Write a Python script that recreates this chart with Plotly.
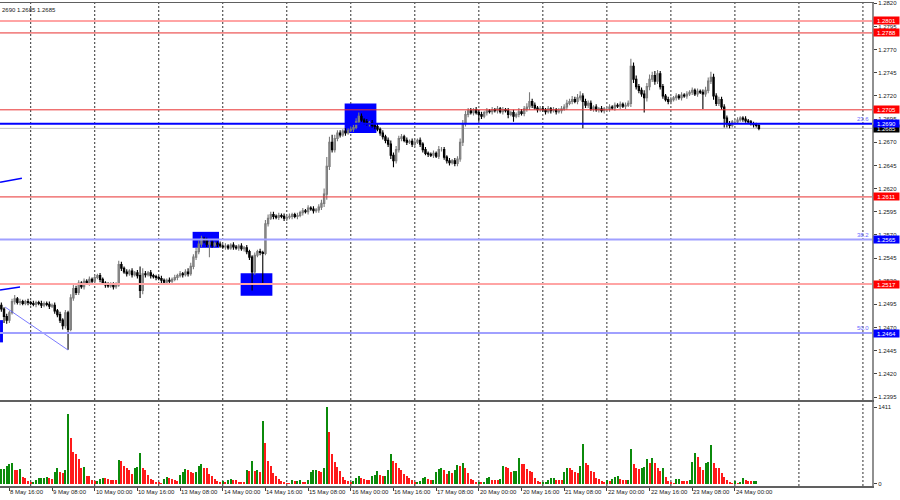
import plotly.graph_objects as go
import pandas as pd

# ---------------- data ----------------
trading_days = ["2024-05-08", "2024-05-09", "2024-05-10", "2024-05-13", "2024-05-14",
                "2024-05-15", "2024-05-16", "2024-05-17", "2024-05-20", "2024-05-21",
                "2024-05-22", "2024-05-23", "2024-05-24"]
future_days = ["2024-05-27", "2024-05-28"]
first_hour = 13          # first H1 bar on 8 May
last_hour = 9            # last H1 bar on 24 May
base_price = 1.2400
pip = 0.0001
first_open_pips = 94

# hourly closes, pips above 1.2400 (one row per day)
close_pips = [
    90, 82, 78, 86, 98, 101, 97, 98, 96, 98, 97,
    96, 95, 97, 96, 94, 96, 95, 93, 94, 88, 84, 78, 72, 86, 68, 102, 112, 108, 118, 114, 120, 118, 122, 120,
    124, 126, 122, 118, 116, 115, 117, 114, 116, 138, 134, 130, 128, 131, 127, 129, 126, 110, 128, 127, 129, 126, 125, 124,
    123, 121, 119, 121, 120, 122, 124, 126, 128, 127, 130, 128, 136, 146, 152, 160, 166, 164, 160, 162, 159, 161, 160, 158,
    157, 158, 156, 159, 157, 156, 158, 155, 156, 152, 146, 130, 148, 152, 151, 150, 182, 188, 192, 190, 189, 191, 190, 188,
    189, 190, 192, 190, 191, 194, 196, 195, 199, 198, 196, 197, 200, 204, 214, 244, 270, 262, 274, 280, 278, 282, 280, 283,
    284, 286, 292, 298, 294, 292, 290, 291, 288, 287, 284, 280, 276, 272, 268, 256, 250, 262, 274, 276, 272, 270, 271, 268,
    270, 272, 268, 262, 258, 257, 256, 258, 255, 262, 262, 254, 250, 248, 250, 247, 252, 270, 290, 300, 304, 302, 305, 302,
    300, 298, 302, 304, 303, 305, 304, 306, 303, 305, 304, 300, 302, 298, 300, 303, 301, 306, 308, 314, 310, 307, 305, 306,
    305, 303, 306, 304, 305, 303, 304, 306, 308, 312, 314, 316, 314, 318, 320, 314, 310, 312, 306, 308, 305, 306, 304, 306,
    306, 308, 307, 310, 309, 311, 309, 310, 312, 352, 338, 330, 326, 322, 318, 330, 338, 342, 336, 344, 330, 320, 316, 314,
    316, 318, 320, 318, 321, 320, 322, 324, 326, 322, 325, 324, 322, 326, 336, 340, 320, 312, 316, 308, 296, 290, 288, 292,
    292, 294, 296, 295, 293, 292, 290, 289, 288, 285,
]

# upper / lower shadow lengths in pips
wick_up = [
    3, 2, 3, 2, 3, 4, 2, 3, 2, 2, 3,
    2, 3, 2, 2, 3, 2, 2, 3, 2, 3, 2, 3, 2, 3, 2, 4, 4, 3, 3, 2, 3, 2, 3, 2,
    3, 2, 3, 2, 2, 3, 2, 2, 3, 4, 3, 2, 3, 2, 3, 2, 3, 10, 6, 3, 2, 3, 2, 2,
    2, 3, 2, 2, 3, 2, 3, 2, 3, 2, 3, 4, 4, 3, 4, 4, 3, 2, 3, 2, 3, 2, 2, 3,
    2, 3, 2, 2, 3, 2, 2, 3, 2, 3, 2, 2, 3, 2, 3, 2, 4, 4, 3, 3, 2, 3, 2, 3,
    2, 3, 2, 2, 3, 2, 3, 2, 3, 2, 3, 2, 3, 4, 6, 10, 6, 8, 4, 3, 3, 2, 3, 2,
    3, 3, 4, 4, 3, 2, 3, 2, 3, 2, 3, 2, 3, 2, 3, 4, 3, 4, 3, 3, 2, 3, 2, 3,
    3, 2, 3, 2, 3, 2, 2, 3, 2, 4, 3, 3, 2, 3, 2, 3, 3, 4, 4, 4, 3, 3, 2, 3,
    3, 3, 2, 3, 2, 3, 2, 3, 2, 3, 2, 3, 2, 3, 2, 4, 3, 3, 4, 10, 3, 3, 2, 3,
    3, 2, 3, 2, 3, 2, 3, 3, 3, 4, 3, 4, 3, 4, 5, 3, 3, 3, 3, 2, 3, 2, 3, 2,
    2, 3, 2, 3, 2, 3, 2, 3, 3, 8, 4, 4, 3, 3, 4, 4, 5, 4, 5, 4, 3, 3, 2, 3,
    3, 2, 3, 2, 3, 2, 3, 2, 3, 2, 3, 2, 3, 4, 4, 6, 4, 3, 3, 3, 3, 3, 3, 2,
    3, 3, 2, 2, 3, 2, 2, 2, 2, 2,
]
wick_dn = [
    3, 7, 4, 3, 2, 3, 2, 3, 2, 2, 3,
    2, 2, 3, 2, 3, 2, 2, 3, 2, 3, 3, 3, 4, 3, 22, 2, 3, 3, 3, 2, 3, 2, 3, 2,
    3, 2, 3, 2, 3, 2, 2, 3, 2, 2, 3, 2, 3, 2, 3, 2, 3, 8, 4, 3, 2, 3, 2, 3,
    2, 3, 2, 3, 2, 3, 2, 3, 2, 3, 2, 3, 2, 3, 3, 3, 3, 3, 3, 14, 3, 2, 3, 2,
    2, 3, 2, 2, 3, 2, 3, 2, 3, 3, 3, 20, 3, 2, 3, 32, 2, 3, 2, 3, 2, 3, 2, 3,
    3, 2, 3, 2, 3, 2, 3, 2, 3, 2, 3, 2, 3, 3, 4, 6, 4, 3, 3, 3, 3, 2, 3, 2,
    2, 3, 2, 3, 2, 3, 2, 3, 2, 3, 2, 3, 3, 3, 3, 4, 7, 3, 3, 3, 2, 3, 2, 3,
    3, 2, 3, 3, 2, 3, 2, 3, 2, 3, 2, 3, 3, 3, 2, 3, 3, 3, 4, 3, 3, 2, 3, 2,
    8, 3, 2, 3, 2, 3, 2, 3, 2, 3, 2, 4, 2, 6, 2, 3, 2, 3, 3, 3, 3, 2, 3, 2,
    2, 3, 2, 3, 2, 3, 2, 3, 2, 3, 2, 3, 2, 3, 3, 29, 3, 3, 2, 3, 2, 3, 2, 3,
    2, 3, 2, 3, 2, 3, 2, 3, 2, 4, 4, 3, 3, 3, 16, 4, 4, 3, 4, 3, 3, 3, 2, 3,
    3, 2, 3, 2, 3, 2, 3, 2, 3, 2, 3, 2, 16, 3, 3, 3, 4, 3, 3, 3, 10, 4, 3, 2,
    3, 2, 2, 3, 2, 2, 2, 3, 2, 2,
]

# tick volumes
volume = [
    273, 280, 333, 376, 378, 261, 255, 270, 121, 103, 61,
    30, 36, 73, 109, 115, 118, 121, 103, 97, 224, 303, 224, 200, 261, 1291, 848, 588, 545, 455, 300, 310, 139, 139, 70,
    61, 64, 91, 115, 103, 91, 79, 76, 72, 442, 424, 333, 291, 261, 182, 303, 310, 576, 303, 261, 164, 91, 73, 42,
    30, 27, 91, 121, 103, 91, 73, 61, 164, 224, 273, 261, 224, 200, 224, 333, 364, 303, 297, 182, 152, 91, 61, 30,
    61, 30, 79, 91, 73, 70, 42, 40, 38, 261, 230, 424, 242, 250, 224, 1164, 758, 424, 333, 194, 152, 91, 61, 42,
    18, 15, 73, 61, 64, 67, 42, 38, 73, 224, 255, 258, 242, 212, 285, 1411, 957, 545, 406, 315, 242, 121, 79, 61,
    42, 61, 103, 152, 103, 100, 79, 76, 152, 164, 242, 164, 139, 152, 261, 545, 424, 394, 303, 255, 182, 139, 103, 73,
    30, 42, 61, 103, 121, 91, 73, 76, 212, 273, 303, 261, 182, 242, 200, 255, 345, 340, 394, 303, 200, 91, 79, 38,
    42, 40, 45, 103, 121, 79, 76, 73, 91, 333, 315, 285, 212, 230, 236, 485, 376, 370, 273, 242, 224, 103, 61, 28,
    30, 42, 73, 103, 106, 73, 70, 67, 224, 297, 285, 255, 224, 194, 333, 727, 394, 351, 242, 224, 103, 91, 55, 30,
    73, 48, 91, 121, 139, 91, 79, 76, 82, 648, 376, 285, 273, 285, 321, 467, 394, 479, 394, 303, 242, 303, 121, 48,
    30, 27, 91, 94, 61, 58, 55, 73, 412, 564, 503, 315, 261, 394, 400, 709, 394, 303, 297, 200, 121, 73, 30, 27,
    61, 18, 30, 115, 79, 61, 48, 50, 52, 6,
]

time_labels = ["8 May 16:00", "9 May 08:00", "10 May 00:00", "10 May 16:00", "13 May 08:00",
               "14 May 00:00", "14 May 16:00", "15 May 08:00", "16 May 00:00", "16 May 16:00",
               "17 May 08:00", "20 May 00:00", "20 May 16:00", "21 May 08:00", "22 May 00:00",
               "22 May 16:00", "23 May 08:00", "24 May 00:00"]

price_ticks = [1.2395, 1.2420, 1.2445, 1.2470, 1.2495, 1.2520, 1.2545, 1.2570, 1.2595,
               1.2620, 1.2645, 1.2670, 1.2695, 1.2720, 1.2745, 1.2770, 1.2795, 1.2820]
volume_ticks = [0, 1411]

level_prices = [1.2801, 1.2788, 1.2705, 1.2611, 1.2517, 1.2565, 1.2464, 1.2690]
level_kinds = ["pink", "red", "red", "red", "pink", "fibo", "fibo", "blue"]
fib_text = {1.2690: "23.6", 1.2565: "38.2", 1.2464: "50.0"}
bid_price = 1.2685
header_text = "2690 1.2685 1.2685"

# rectangles: (start bar, end bar, upper price, lower price)
boxes = [(-0.5, 0.6, 1.2478, 1.2454),
         (71.7, 81.6, 1.25733, 1.25561),
         (89.7, 101.6, 1.25285, 1.25043),
         (128.7, 140.6, 1.27118, 1.26801)]
# trend lines: (bar0, price0, bar1, price1, kind)
trend_lines = [(-0.5, 1.26269, 7.7, 1.26312, "thick"),
               (-0.5, 1.25104, 7.0, 1.25137, "thick"),
               (1.4, 1.24921, 25.0, 1.24457, "thin")]

# ---------------- build bars ----------------
times = []
for d in trading_days:
    for hr in range(24):
        if d == trading_days[0] and hr < first_hour:
            continue
        if d == trading_days[-1] and hr > last_hour:
            continue
        times.append(pd.Timestamp(d) + pd.Timedelta(hours=hr))
n = len(times)
assert n == len(close_pips) == len(wick_up) == len(wick_dn) == len(volume)

idx = list(range(n))
opens_p = [first_open_pips] + close_pips[:-1]
o = [base_price + v * pip for v in opens_p]
c = [base_price + v * pip for v in close_pips]
h = [base_price + (max(a, b) + u) * pip for a, b, u in zip(opens_p, close_pips, wick_up)]
l = [base_price + (min(a, b) - w) * pip for a, b, w in zip(opens_p, close_pips, wick_dn)]

vol_colors = ["#0b8a0b" if (i == 0 or v > volume[i - 1]) else "#ff1a1a" for i, v in enumerate(volume)]

day_starts = [i for i, t in enumerate(times) if t.hour == 0]
last_start = day_starts[-1]
grid_pos = day_starts + [last_start + 24 * (k + 1) for k in range(len(future_days))]

label_pos = []
for s in time_labels:
    t = pd.to_datetime(s + " 2024", format="%d %b %H:%M %Y")
    label_pos.append(times.index(t))

# ---------------- figure ----------------
FONT = "Liberation Sans, Arial, sans-serif"
fig = go.Figure()
fig.add_trace(go.Candlestick(
    x=idx, open=o, high=h, low=l, close=c,
    increasing=dict(line=dict(color="#7c7c7c", width=1.1), fillcolor="#a8a8a8"),
    decreasing=dict(line=dict(color="#000000", width=1.1), fillcolor="#000000"),
    whiskerwidth=0, xaxis="x", yaxis="y", showlegend=False, hoverinfo="skip"))
fig.add_trace(go.Bar(x=idx, y=volume, marker=dict(color=vol_colors, line=dict(width=0)),
                     width=0.75, xaxis="x2", yaxis="y2", showlegend=False, hoverinfo="skip"))

x_range = [-0.51, 326.4]
main_dom = [0.17805, 1.0]
vol_dom = [0.0, 0.1739]
frame = "#606060"

fig.update_layout(
    width=900, height=500,
    margin=dict(l=0, r=28, t=3, b=14),
    paper_bgcolor="white", plot_bgcolor="white",
    font=dict(family=FONT, size=6, color="#202020"),
    bargap=0,
    xaxis=dict(domain=[0, 1], range=x_range, anchor="y", showgrid=False, zeroline=False,
               showticklabels=False, ticks="", showline=True, mirror=True,
               linecolor=frame, linewidth=1.5, rangeslider=dict(visible=False), fixedrange=True),
    yaxis=dict(domain=main_dom, range=[1.23918, 1.28203], side="right", anchor="x",
               tickmode="array", tickvals=price_ticks, ticktext=[f"{v:.4f}" for v in price_ticks],
               ticks="outside", ticklen=3, tickcolor="#404040", showgrid=False, zeroline=False,
               showline=True, linecolor="#909090", linewidth=2, tickfont=dict(size=6, color="#202020")),
    xaxis2=dict(domain=[0, 1], range=x_range, anchor="y2", matches="x", showgrid=False, zeroline=False,
                tickmode="array", tickvals=label_pos, showticklabels=False, ticks="outside", ticklen=3,
                tickcolor="#404040", showline=True, mirror=True, linecolor=frame, linewidth=1.5),
    yaxis2=dict(domain=vol_dom, range=[-37, 1508], side="right", anchor="x2",
                tickmode="array", tickvals=volume_ticks, ticktext=[str(v) for v in volume_ticks],
                ticks="outside", ticklen=3, tickcolor="#404040", showgrid=False, zeroline=False,
                showline=True, linecolor="#909090", linewidth=2, tickfont=dict(size=6, color="#202020")),
)

shapes = []
for g in grid_pos:
    for yr in ("y domain", "y2 domain"):
        shapes.append(dict(type="line", xref="x", yref=yr, x0=g, x1=g, y0=0, y1=1,
                           line=dict(color="#303030", width=1, dash="2px,2px"), layer="below"))
for b0, b1, p_hi, p_lo in boxes:
    shapes.append(dict(type="rect", xref="x", yref="y", x0=b0, x1=b1, y0=p_lo, y1=p_hi,
                       fillcolor="#0000ff", line=dict(width=0), layer="below"))
for b0, p0, b1, p1, kind in trend_lines:
    shapes.append(dict(type="line", xref="x", yref="y", x0=b0, y0=p0, x1=b1, y1=p1,
                       line=dict(color="#0000ff" if kind == "thick" else "#5a5aff",
                                 width=1.5 if kind == "thick" else 0.8), layer="above"))
shapes.append(dict(type="line", xref="x domain", yref="y", x0=0, x1=1, y0=bid_price, y1=bid_price,
                   line=dict(color="#c0c0c0", width=1), layer="below"))
line_style = {"pink": ("#ffa4a4", 2), "red": ("#e83030", 1), "fibo": ("#a0a0ff", 2), "blue": ("#0000ff", 2)}
label_bg = {"pink": "#ff0000", "red": "#ff0000", "fibo": "#0000ff", "blue": "#0000ff"}
for p, k in zip(level_prices, level_kinds):
    col, w = line_style[k]
    shapes.append(dict(type="line", xref="x domain", yref="y", x0=0, x1=1, y0=p, y1=p,
                       line=dict(color=col, width=w), layer="above"))
fig.update_layout(shapes=shapes)

ann = []
ann.append(dict(x=1, xref="paper", y=bid_price, yref="y", xanchor="left", yanchor="middle", xshift=1,
                text=f"{bid_price:.4f}", showarrow=False, bgcolor="#000000", width=25, height=7,
                borderpad=0, font=dict(color="white", size=6, family=FONT)))
for p, k in zip(level_prices, level_kinds):
    ann.append(dict(x=1, xref="paper", y=p, yref="y", xanchor="left", yanchor="middle", xshift=1,
                    text=f"{p:.4f}", showarrow=False, bgcolor=label_bg[k], width=25, height=7,
                    borderpad=0, font=dict(color="white", size=6, family=FONT)))
for p, t in fib_text.items():
    ann.append(dict(x=1, xref="paper", y=p, yref="y", xanchor="right", yanchor="bottom", xshift=-1,
                    text=t, showarrow=False, font=dict(color="#6a6aff", size=6, family=FONT)))
for pos, s in zip(label_pos, time_labels):
    ann.append(dict(x=pos, xref="x2", y=-0.0125, yref="paper", xanchor="left", yanchor="middle",
                    xshift=-1, text=s, showarrow=False, font=dict(color="#202020", size=6, family=FONT)))
ann.append(dict(x=0, xref="paper", y=1, yref="paper", xanchor="left", yanchor="top", yshift=-2,
                text=header_text, showarrow=False, font=dict(color="#202020", size=6, family=FONT)))
fig.update_layout(annotations=ann)

fig.write_html("out.html",
               config={"displayModeBar": False, "staticPlot": True},
               post_script="document.body.style.margin='0';document.body.style.overflow='hidden';")
